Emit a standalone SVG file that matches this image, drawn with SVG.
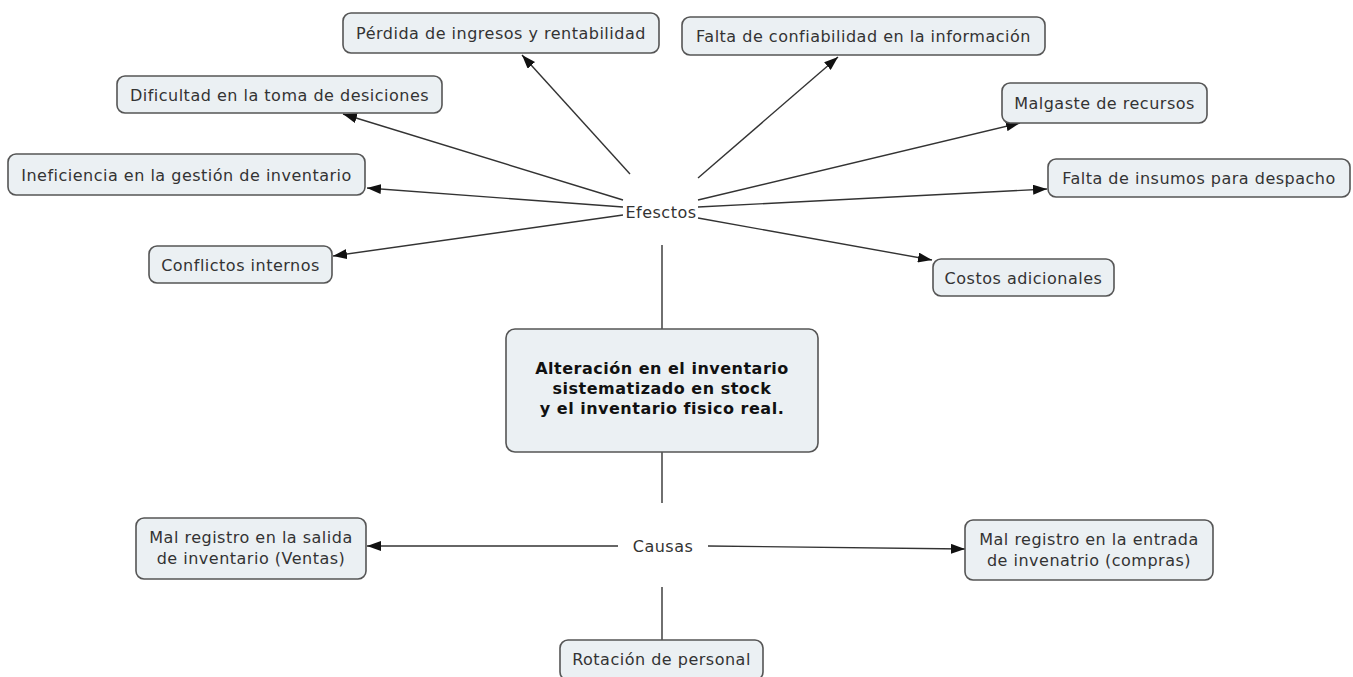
<svg xmlns="http://www.w3.org/2000/svg" width="1353" height="677" viewBox="0 0 1353 677">
<defs>
<marker id="arr" viewBox="0 0 14 10" refX="14" refY="5" markerWidth="14" markerHeight="10" markerUnits="userSpaceOnUse" orient="auto">
<path d="M0,0 L14,5 L0,10 z" fill="#111"/>
</marker>
<style>
.box{fill:#ebf0f3;stroke:#555;stroke-width:1.6}
.t{font-family:"DejaVu Sans",Verdana,sans-serif;font-size:16px;letter-spacing:0.5px;fill:#333;text-anchor:middle}
.b{font-weight:bold;fill:#111}
.c{stroke:#333;stroke-width:1.4;fill:none}
.a{marker-end:url(#arr)}
</style>
</defs>
<rect width="1353" height="677" fill="#fff"/>
<g id="connectors">
<line class="c a" x1="630" y1="174" x2="522" y2="55"/>
<line class="c a" x1="698" y1="178" x2="838" y2="57"/>
<line class="c a" x1="623" y1="200" x2="343" y2="114"/>
<line class="c a" x1="623" y1="207" x2="367" y2="188"/>
<line class="c a" x1="623" y1="215" x2="333" y2="256"/>
<line class="c a" x1="698" y1="200" x2="1020" y2="123"/>
<line class="c a" x1="698" y1="207" x2="1047" y2="189"/>
<line class="c a" x1="698" y1="218" x2="932" y2="260"/>
<line class="c" x1="662" y1="245" x2="662" y2="329"/>
<line class="c" x1="662" y1="452" x2="662" y2="503"/>
<line class="c" x1="662" y1="587" x2="662" y2="640"/>
<line class="c a" x1="618" y1="546" x2="367" y2="546"/>
<line class="c a" x1="708" y1="546" x2="965" y2="549"/>
</g>
<g id="efectos">
<text class="t" x="661" y="218">Efesctos</text>
</g>
<g id="causas">
<text class="t" x="663" y="552">Causas</text>
</g>
<g id="n-perdida">
<rect class="box" x="343" y="13" width="316" height="40" rx="8"/>
<text class="t" x="501" y="39">Pérdida de ingresos y rentabilidad</text>
</g>
<g id="n-confiabilidad">
<rect class="box" x="682" y="17" width="363" height="38" rx="8"/>
<text class="t" x="863.5" y="42">Falta de confiabilidad en la información</text>
</g>
<g id="n-dificultad">
<rect class="box" x="117" y="76" width="325" height="37" rx="8"/>
<text class="t" x="279.5" y="100.5">Dificultad en la toma de desiciones</text>
</g>
<g id="n-ineficiencia">
<rect class="box" x="8" y="154" width="357" height="41" rx="8"/>
<text class="t" x="186.5" y="180.5">Ineficiencia en la gestión de inventario</text>
</g>
<g id="n-conflictos">
<rect class="box" x="149" y="246" width="183" height="37" rx="8"/>
<text class="t" x="240.5" y="270.5">Conflictos internos</text>
</g>
<g id="n-malgaste">
<rect class="box" x="1002" y="83" width="205" height="40" rx="8"/>
<text class="t" x="1104.5" y="109">Malgaste de recursos</text>
</g>
<g id="n-insumos">
<rect class="box" x="1048" y="159" width="302" height="38" rx="8"/>
<text class="t" x="1199" y="184">Falta de insumos para despacho</text>
</g>
<g id="n-costos">
<rect class="box" x="933" y="259" width="181" height="37" rx="8"/>
<text class="t" x="1023.5" y="283.5">Costos adicionales</text>
</g>
<g id="n-central">
<rect class="box" x="506" y="329" width="312" height="123" rx="9"/>
<text class="t b" x="662" y="374">Alteración en el inventario</text>
<text class="t b" x="662" y="394">sistematizado en stock</text>
<text class="t b" x="662" y="414">y el inventario fisico real.</text>
</g>
<g id="n-salida">
<rect class="box" x="136" y="518" width="230" height="61" rx="8"/>
<text class="t" x="251" y="543">Mal registro en la salida</text>
<text class="t" x="251" y="564">de inventario (Ventas)</text>
</g>
<g id="n-entrada">
<rect class="box" x="965" y="520" width="248" height="60" rx="8"/>
<text class="t" x="1089" y="544.5">Mal registro en la entrada</text>
<text class="t" x="1089" y="565.5">de invenatrio (compras)</text>
</g>
<g id="n-rotacion">
<rect class="box" x="560" y="640" width="203" height="40" rx="8"/>
<text class="t" x="661.5" y="665">Rotación de personal</text>
</g>
</svg>
